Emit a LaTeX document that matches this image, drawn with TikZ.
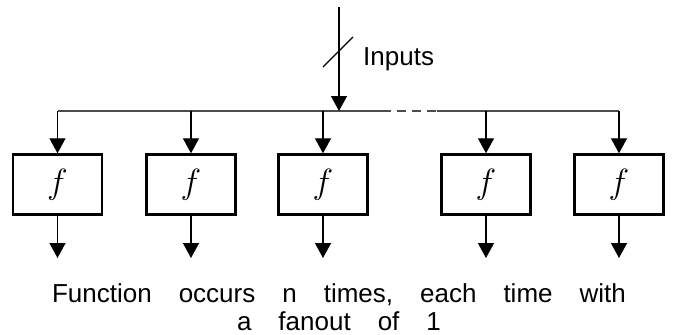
\RequirePackage{fix-cm}
\documentclass[tikz,border=0pt]{standalone}
\usepackage{fontspec}
\setmainfont{Liberation Sans}
\usetikzlibrary{arrows.meta}

% caption font with wide inter-word spacing
\newcommand{\capfont}{\fontsize{26}{28}\selectfont\spaceskip=27pt\relax}

\tikzset{
  fbox/.style={draw, line width=2.4pt, minimum width=89pt, minimum height=60pt,
    inner sep=0pt, font=\fontsize{35}{35}\selectfont},
  wire/.style={line width=1.3pt},
  bus/.style={line width=1.6pt, draw=black!70},
  arr/.style={wire, -{Triangle[length=15pt, width=16pt]}},
  label/.style={font=\fontsize{26}{28}\selectfont, inner sep=0pt},
}

\begin{document}
\begin{tikzpicture}[x=1pt, y=-1pt]
  \useasboundingbox (0,0) rectangle (673,335);

  % function blocks
  \foreach \i/\x in {1/57.5, 2/191, 3/323, 4/486, 5/619}{
    \node[fbox] (f\i) at (\x,184.5) {$f$};
    \coordinate (t\i) at (\x,111);
    \coordinate (o\i) at (\x,258);
  }

  % shared input line
  \coordinate (in) at (339,7);
  \coordinate (tap) at (339,111);
  \coordinate (ds) at (382,111);
  \coordinate (de) at (437,111);

  % bus with elided middle section
  \draw[bus] (t1) -- (ds);
  \draw[bus, dash pattern=on 9pt off 6pt] (ds) -- (de);
  \draw[bus] (de) -- (t5);

  % input arrow with bus slash
  \draw[arr] (in) -- (tap);
  \draw[wire] (323,67) -- (353,37);
  \node[label, anchor=base west] (inl) at (363,65) {Inputs};

  % fanout to each block and outputs
  \foreach \i in {1,...,5}{
    \draw[arr] (t\i) -- (f\i.north);
    \draw[arr] (f\i.south) -- (o\i);
  }

  % caption (base anchor sits on the last line)
  \node[inner sep=0pt, align=center, anchor=base, font=\capfont] (cap) at (339,330)
    {Function occurs n times, each time with\\ a fanout of 1};
\end{tikzpicture}
\end{document}
